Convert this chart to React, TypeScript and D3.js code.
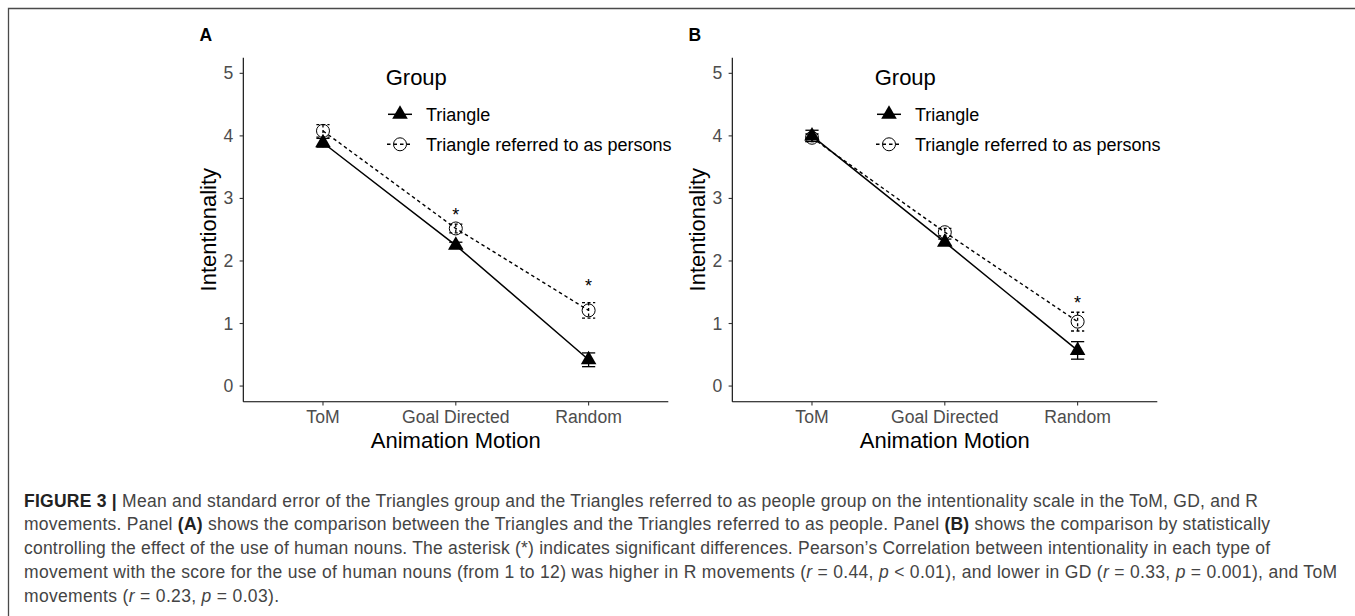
import React from "react";
import * as d3 from "d3";

const categories = ["ToM", "Goal Directed", "Random"];
const groupNames = ["Triangle", "Triangle referred to as persons"];
const yTicks = [0, 1, 2, 3, 4, 5];

const meanA_triangle = [3.89, 2.25, 0.42];
const seA_triangle = [0.07, 0.05, 0.11];
const meanA_persons = [4.08, 2.52, 1.21];
const seA_persons = [0.1, 0.07, 0.125];
const sigA = [null, 2.8, 1.67];

const meanB_triangle = [4.0, 2.3, 0.57];
const seB_triangle = [0.09, 0.05, 0.14];
const meanB_persons = [3.97, 2.46, 1.03];
const seB_persons = [0.06, 0.06, 0.15];
const sigB = [null, null, 1.4];

type Seg = [string, string?];
const captionLines: Seg[][] = [
  [["FIGURE 3 | ", "b"], ["Mean and standard error of the Triangles group and the Triangles referred to as people group on the intentionality scale in the ToM, GD, and R"]],
  [["movements. Panel "], ["(A)", "b"], [" shows the comparison between the Triangles and the Triangles referred to as people. Panel "], ["(B)", "b"], [" shows the comparison by statistically"]],
  [["controlling the effect of the use of human nouns. The asterisk (*) indicates significant differences. Pearson\u2019s Correlation between intentionality in each type of"]],
  [["movement with the score for the use of human nouns (from 1 to 12) was higher in R movements ("], ["r", "i"], [" = 0.44, "], ["p", "i"], [" < 0.01), and lower in GD ("], ["r", "i"], [" = 0.33, "], ["p", "i"], [" = 0.001), and ToM"]],
  [["movements ("], ["r", "i"], [" = 0.23, "], ["p", "i"], [" = 0.03)."]],
];
const captionWidths = [1234, 1246, 1246, 1313, 255];

const FONT = "'Liberation Sans', Arial, Helvetica, sans-serif";
const PLOT_TOP = 57.7;
const PLOT_BOTTOM = 401.7;
const PLOT_W = 425;

function Panel(props: {
  x0: number;
  label: string;
  tri: number[];
  triSe: number[];
  per: number[];
  perSe: number[];
  sig: (number | null)[];
}) {
  const { x0, label, tri, triSe, per, perSe, sig } = props;
  const x = d3.scalePoint<string>().domain(categories).range([x0, x0 + PLOT_W]).padding(0.6);
  const y = d3.scaleLinear().domain([-0.25, 5.25]).range([PLOT_BOTTOM, PLOT_TOP]);
  const line = d3
    .line<number>()
    .x((_, i) => x(categories[i]) as number)
    .y((d) => y(d));
  const triPath = d3.symbol().type(d3.symbolTriangle).size(105)() as string;
  const capW = 6.6;
  const errBar = (m: number, s: number, cx: number, dash?: string, key?: string) => (
    <g key={key} stroke="#000" strokeWidth={1.3} strokeDasharray={dash} fill="none">
      <line x1={cx} x2={cx} y1={y(m + s)} y2={y(m - s)} />
      <line x1={cx - capW} x2={cx + capW} y1={y(m + s)} y2={y(m + s)} />
      <line x1={cx - capW} x2={cx + capW} y1={y(m - s)} y2={y(m - s)} />
    </g>
  );
  const legX = x0 + 142.4;
  return (
    <g fontFamily={FONT}>
      <text x={x0 - 43.8} y={41} fontSize={17.5} fontWeight="bold" fill="#000">
        {label}
      </text>
      {/* axes */}
      <line x1={x0} x2={x0} y1={PLOT_TOP} y2={PLOT_BOTTOM} stroke="#000" strokeWidth={1.1} />
      <line x1={x0} x2={x0 + PLOT_W} y1={PLOT_BOTTOM} y2={PLOT_BOTTOM} stroke="#000" strokeWidth={1.1} />
      {yTicks.map((t) => (
        <g key={t}>
          <line x1={x0 - 3.7} x2={x0} y1={y(t)} y2={y(t)} stroke="#333" strokeWidth={1.1} />
          <text x={x0 - 10} y={y(t) + 6} textAnchor="end" fontSize={17.6} fill="#4D4D4D">
            {t}
          </text>
        </g>
      ))}
      {categories.map((c) => (
        <g key={c}>
          <line x1={x(c)} x2={x(c)} y1={PLOT_BOTTOM} y2={PLOT_BOTTOM + 3.7} stroke="#333" strokeWidth={1.1} />
          <text x={x(c)} y={423.3} textAnchor="middle" fontSize={17.6} fill="#4D4D4D">
            {c}
          </text>
        </g>
      ))}
      <text x={x0 + PLOT_W / 2} y={447.5} textAnchor="middle" fontSize={22} fill="#000">
        Animation Motion
      </text>
      <text
        transform={`translate(${x0 - 27.3},${(PLOT_TOP + PLOT_BOTTOM) / 2}) rotate(-90)`}
        textAnchor="middle"
        fontSize={22}
        fill="#000"
      >
        Intentionality
      </text>
      {/* lines */}
      <path d={line(tri) as string} fill="none" stroke="#000" strokeWidth={1.5} />
      <path d={line(per) as string} fill="none" stroke="#000" strokeWidth={1.4} strokeDasharray="3.5,3" />
      {/* error bars */}
      {tri.map((m, i) => errBar(m, triSe[i], x(categories[i]) as number, undefined, "te" + i))}
      {per.map((m, i) => errBar(m, perSe[i], x(categories[i]) as number, "3,2.5", "pe" + i))}
      {/* points */}
      {tri.map((m, i) => (
        <path key={"tp" + i} d={triPath} transform={`translate(${x(categories[i])},${y(m)})`} fill="#000" />
      ))}
      {per.map((m, i) => (
        <circle key={"pp" + i} cx={x(categories[i])} cy={y(m)} r={6.5} fill="none" stroke="#000" strokeWidth={1} />
      ))}
      {sig.map((s, i) =>
        s == null ? null : (
          <text key={"s" + i} x={x(categories[i])} y={y(s) + 10} textAnchor="middle" fontSize={18} fill="#000">
            *
          </text>
        )
      )}
      {/* legend */}
      <text x={legX} y={85} fontSize={22} fill="#000">
        Group
      </text>
      <g>
        <line x1={x0 + 144.7} x2={x0 + 168.7} y1={114.3} y2={114.3} stroke="#000" strokeWidth={1.5} />
        <path d={triPath} transform={`translate(${x0 + 156.7},${114.3})`} fill="#000" />
        <text x={x0 + 182.7} y={120.6} fontSize={18} fill="#000">
          {groupNames[0]}
        </text>
      </g>
      <g>
        <line
          x1={x0 + 143.7}
          x2={x0 + 169.7}
          y1={144.3}
          y2={144.3}
          stroke="#000"
          strokeWidth={1.4}
          strokeDasharray="3.5,3"
        />
        <circle cx={x0 + 156.7} cy={144.3} r={6.5} fill="#fff" fillOpacity={0} stroke="#000" strokeWidth={1} />
        <text x={x0 + 182.7} y={150.6} fontSize={18} fill="#000">
          {groupNames[1]}
        </text>
      </g>
    </g>
  );
}

export default function App() {
  return (
    <svg
      width={1355}
      height={616}
      style={{ position: "absolute", left: 0, top: 0, background: "#fff" }}
      xmlns="http://www.w3.org/2000/svg"
    >
      <rect width={1355} height={616} fill="#fff" />
      <path d="M8.5,616 V8.5 H1355" fill="none" stroke="#4a4a4a" strokeWidth={1.3} />
      <Panel x0={243.3} label="A" tri={meanA_triangle} triSe={seA_triangle} per={meanA_persons} perSe={seA_persons} sig={sigA} />
      <Panel x0={732.3} label="B" tri={meanB_triangle} triSe={seB_triangle} per={meanB_persons} perSe={seB_persons} sig={sigB} />
      <g fontFamily={FONT} fontSize={17.5} fill="#444">
        {captionLines.map((segs, li) => (
          <text key={li} x={24} y={506.7 + li * 23.7} textLength={captionWidths[li]} lengthAdjust="spacing">
            {segs.map(([t, st], si) => (
              <tspan
                key={si}
                fontWeight={st === "b" ? "bold" : undefined}
                fontStyle={st === "i" ? "italic" : undefined}
                fill={st === "b" ? "#222" : undefined}
              >
                {t}
              </tspan>
            ))}
          </text>
        ))}
      </g>
    </svg>
  );
}
